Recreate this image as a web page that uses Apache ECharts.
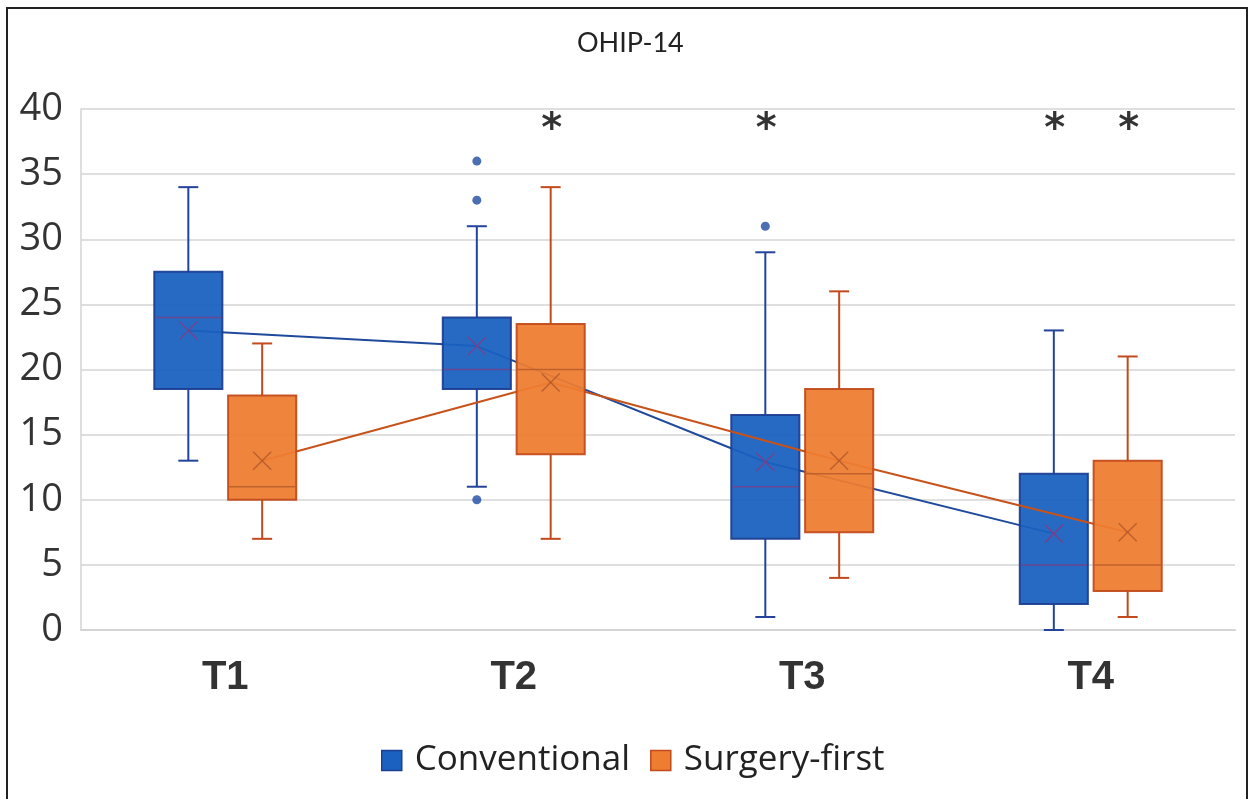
<!DOCTYPE html>
<html>
<head>
<meta charset="utf-8">
<script src="https://cdn.jsdelivr.net/npm/echarts@6/dist/echarts.min.js"></script>
<style>
html,body{margin:0;padding:0;background:#fff;}
#c{width:1250px;height:799px;position:absolute;left:0;top:0;}
#frame{position:absolute;left:6px;top:7px;width:1238px;height:820px;border:2px solid #222;pointer-events:none;}
</style>
</head>
<body>
<div id="c"></div>
<div id="frame"></div>
<script>
// ---- data ----
const categories = ['T1', 'T2', 'T3', 'T4'];
const yTicks = [0, 5, 10, 15, 20, 25, 30, 35, 40];
// [min, Q1, median, Q3, max]
const convStats = [[13, 18.5, 24, 27.5, 34], [11, 18.5, 20, 24, 31], [1, 7, 11, 16.5, 29], [0, 2, 5, 12, 23]];
const convMeans = [23, 21.8, 12.9, 7.4];
const sfStats = [[7, 10, 11, 18, 22], [7, 13.5, 20, 23.5, 34], [4, 7.5, 12, 18.5, 26], [1, 3, 5, 13, 21]];
const sfMeans = [13, 19, 13, 7.5];
// [category index, value]
const convOutliers = [[1, 36], [1, 33], [1, 10], [2, 31]];
const sfOutliers = [];
// significance marks: [category index, group (0 conv, 1 sf), y value]
const asterisks = [[1, 1, 38.9], [2, 0, 38.9], [3, 0, 38.9], [3, 1, 38.9]];

// ---- layout helpers ----
const OFF = 0.128;   // group offset in category units
const BOXW = 0.236;  // box width in category units
const groupOff = [-OFF, OFF];

const C = {
  conv: { fill: '#1a61c0', stroke: '#1d3f91', whisker: '#23449a', inner: '#7b3f86', line: '#1f4a9c', dot: '#1f4aa0' },
  sf: { fill: '#ee7d31', stroke: '#c24a1c', whisker: '#c24a1c', inner: '#b4592a', line: '#c8531a' }
};

function boxData(stats, means, g) {
  return stats.map((s, i) => [i + groupOff[g], s[0], s[1], s[2], s[3], s[4], means[i]]);
}

function makeRender(col) {
  return function (params, api) {
    const x = api.value(0);
    const pMin = api.coord([x, api.value(1)]);
    const pQ1 = api.coord([x, api.value(2)]);
    const pMed = api.coord([x, api.value(3)]);
    const pQ3 = api.coord([x, api.value(4)]);
    const pMax = api.coord([x, api.value(5)]);
    const pMean = api.coord([x, api.value(6)]);
    const hw = api.size([BOXW, 0])[0] / 2;
    const cap = 10;
    const cx = pQ1[0];
    const ws = { stroke: col.whisker, lineWidth: 2 };
    const children = [
      { type: 'line', shape: { x1: cx, y1: pMax[1], x2: cx, y2: pQ3[1] }, style: ws },
      { type: 'line', shape: { x1: cx - cap, y1: pMax[1], x2: cx + cap, y2: pMax[1] }, style: ws },
      { type: 'line', shape: { x1: cx, y1: pMin[1], x2: cx, y2: pQ1[1] }, style: ws },
      { type: 'line', shape: { x1: cx - cap, y1: pMin[1], x2: cx + cap, y2: pMin[1] }, style: ws },
      { type: 'rect', shape: { x: cx - hw, y: pQ3[1], width: 2 * hw, height: pQ1[1] - pQ3[1] },
        style: { fill: col.fill, stroke: col.stroke, lineWidth: 2, opacity: 0.94 } },
      { type: 'line', shape: { x1: cx - hw + 1, y1: pMed[1], x2: cx + hw - 1, y2: pMed[1] },
        style: { stroke: col.inner, lineWidth: 1.5, opacity: 0.8 } },
      { type: 'line', shape: { x1: pMean[0] - 9, y1: pMean[1] - 9, x2: pMean[0] + 9, y2: pMean[1] + 9 },
        style: { stroke: col.inner, lineWidth: 1.5, opacity: 0.85 } },
      { type: 'line', shape: { x1: pMean[0] - 9, y1: pMean[1] + 9, x2: pMean[0] + 9, y2: pMean[1] - 9 },
        style: { stroke: col.inner, lineWidth: 1.5, opacity: 0.85 } }
    ];
    return { type: 'group', children };
  };
}

const chart = echarts.init(document.getElementById('c'), null, { renderer: 'canvas' });
const option = {
  animation: false,
  backgroundColor: '#fff',
  title: {
    text: 'OHIP-14', left: 572, top: 25,
    textStyle: { fontFamily: 'Lato', fontSize: 27, fontWeight: 'normal', color: '#222' }
  },
  legend: {
    bottom: 16, left: 376,
    itemWidth: 20, itemHeight: 20, itemGap: 20, icon: 'rect',
    textStyle: { fontFamily: 'Open Sans', fontSize: 35, color: '#222', padding: [0, 0, 0, 8] },
    data: [
      { name: 'Conventional', itemStyle: { color: C.conv.fill, borderColor: C.conv.stroke, borderWidth: 1.5 } },
      { name: 'Surgery-first', itemStyle: { color: C.sf.fill, borderColor: C.sf.stroke, borderWidth: 1.5 } }
    ]
  },
  grid: { left: 81, right: 15, top: 109, bottom: 169, containLabel: false },
  xAxis: [
    {
      type: 'category', data: categories, boundaryGap: true,
      axisLine: { show: true, lineStyle: { color: '#d4d4d4', width: 2 } },
      axisTick: { show: false },
      axisLabel: { margin: 28, fontFamily: 'Liberation Sans', fontWeight: 'bold', fontSize: 40, color: '#333' }
    },
    { type: 'value', min: -0.5, max: 3.5, show: false }
  ],
  yAxis: {
    type: 'value', min: yTicks[0], max: yTicks[yTicks.length - 1], interval: 5,
    axisLine: { show: true, onZero: false, lineStyle: { color: '#d4d4d4', width: 1.5 } },
    axisTick: { show: false },
    splitLine: { lineStyle: { color: '#d4d4d4', width: 1.5 } },
    axisLabel: { margin: 18, fontFamily: 'Open Sans', fontSize: 38, color: '#333' }
  },
  series: [
    {
      name: 'ConvMean', type: 'line', xAxisIndex: 1, z: 2, symbol: 'none', silent: true,
      data: convMeans.map((m, i) => [i + groupOff[0], m]),
      lineStyle: { color: C.conv.line, width: 2 }
    },
    {
      name: 'Conventional', type: 'custom', xAxisIndex: 1, z: 3,
      itemStyle: { color: C.conv.fill, borderColor: C.conv.stroke },
      renderItem: makeRender(C.conv),
      encode: { x: 0, y: [1, 5] },
      data: boxData(convStats, convMeans, 0)
    },
    {
      name: 'SfMean', type: 'line', xAxisIndex: 1, z: 4, symbol: 'none', silent: true,
      data: sfMeans.map((m, i) => [i + groupOff[1], m]),
      lineStyle: { color: C.sf.line, width: 2 }
    },
    {
      name: 'Surgery-first', type: 'custom', xAxisIndex: 1, z: 5,
      itemStyle: { color: C.sf.fill, borderColor: C.sf.stroke },
      renderItem: makeRender(C.sf),
      encode: { x: 0, y: [1, 5] },
      data: boxData(sfStats, sfMeans, 1)
    },
    {
      name: 'ConvOut', type: 'scatter', xAxisIndex: 1, z: 6, symbolSize: 9,
      itemStyle: { color: C.conv.dot },
      data: convOutliers.map(o => [o[0] + groupOff[0], o[1]])
    },
    {
      name: 'SfOut', type: 'scatter', xAxisIndex: 1, z: 6, symbolSize: 9,
      itemStyle: { color: C.sf.stroke },
      data: sfOutliers.map(o => [o[0] + groupOff[1], o[1]])
    },
    {
      name: 'Sig', type: 'scatter', xAxisIndex: 1, z: 7, symbolSize: 1,
      itemStyle: { color: 'rgba(0,0,0,0)' },
      label: {
        show: true, position: 'inside', formatter: '*', offset: [1, 7],
        fontFamily: 'DejaVu Sans', fontWeight: 'bold', fontSize: 40, color: '#000'
      },
      data: asterisks.map(a => [a[0] + groupOff[a[1]], a[2]])
    }
  ]
};
chart.setOption(option);
</script>
</body>
</html>
